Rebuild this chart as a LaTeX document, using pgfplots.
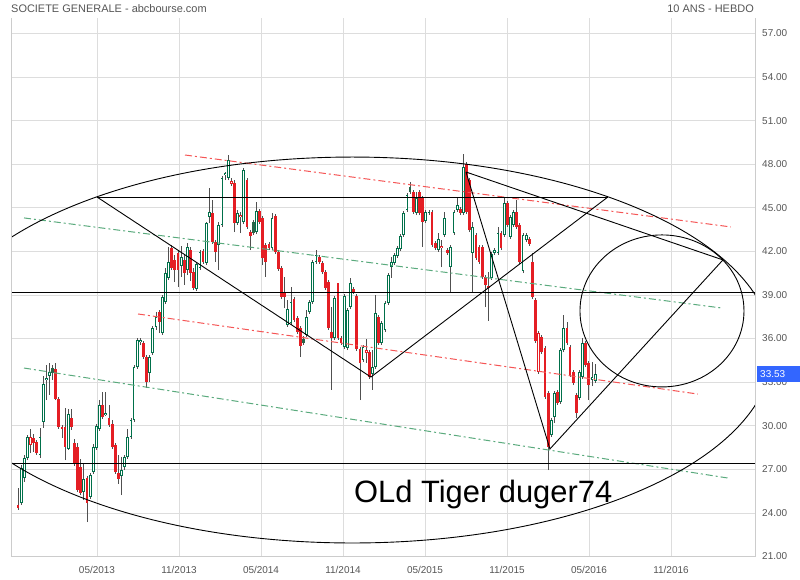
\documentclass[border=0pt]{standalone}
\usepackage{pgfplots}
\pgfplotsset{compat=1.18}
\usepackage{pgfplotstable}
\usepackage{fontspec}
\setmainfont{Liberation Sans}
\definecolor{cgreen}{RGB}{0,112,74}
\definecolor{cred}{RGB}{228,30,36}
\definecolor{cdkgreen}{RGB}{40,100,72}
\definecolor{cwick}{RGB}{80,80,80}
\definecolor{cgrid}{RGB}{221,221,221}
\definecolor{cframe}{RGB}{204,204,204}
\definecolor{ctext}{RGB}{85,85,85}
\definecolor{ctag}{RGB}{51,102,255}
\definecolor{cdred}{RGB}{245,85,85}
\definecolor{cdgreen}{RGB}{90,170,125}
\pgfplotsset{
  candlebars/.style={only marks, mark=*, mark size=0pt,
    mark options={draw opacity=0, fill opacity=0}, forget plot},
}
\pgfplotstableread{
w o h l c t
0 24.55 25.72 24.20 24.34 1
1 24.68 27.30 24.55 27.09 0
2 26.40 27.99 26.13 27.78 0
3 27.78 29.36 27.64 29.23 0
4 28.68 29.78 28.12 29.23 2
5 29.16 29.43 28.19 28.81 1
6 28.88 29.02 27.99 28.12 1
7 27.99 29.85 27.78 29.23 0
8 30.26 33.43 29.85 32.87 0
9 33.15 34.18 31.77 33.29 0
10 33.43 34.32 32.12 33.70 0
11 33.98 34.18 33.15 33.63 3
12 33.91 34.32 31.77 31.84 1
13 31.84 31.98 29.78 29.92 1
14 29.92 30.05 29.16 29.78 1
15 29.92 31.22 27.64 28.54 1
16 28.40 31.15 28.33 30.81 0
17 30.54 31.15 29.71 29.92 1
18 28.81 29.09 27.23 27.36 1
19 28.54 28.81 25.44 25.58 1
20 27.16 27.71 25.23 25.37 1
21 25.44 27.43 24.89 26.34 0
22 26.40 26.54 23.37 24.68 1
23 25.10 26.75 24.96 26.61 0
24 26.81 28.74 26.68 28.54 0
25 28.47 30.12 28.33 29.98 0
26 29.78 31.77 29.64 31.43 0
27 31.43 32.32 30.47 30.61 1
28 30.74 32.32 30.67 30.88 0
29 30.54 31.43 29.92 30.05 1
30 30.12 30.40 28.40 28.54 1
31 28.68 28.81 26.68 26.81 1
32 26.75 27.99 25.99 26.34 1
33 26.54 27.85 25.23 26.95 0
34 27.16 27.99 26.95 27.85 0
35 27.85 29.78 27.71 29.23 0
36 29.23 30.54 29.09 30.40 0
37 30.40 34.18 30.26 34.04 0
38 34.04 36.04 33.91 35.90 0
39 35.76 36.04 35.56 35.90 0
40 35.69 35.83 34.59 34.73 1
41 34.73 34.87 32.60 33.01 1
42 33.63 34.87 33.01 34.73 0
43 35.00 36.87 34.87 36.73 0
44 36.80 37.83 36.59 37.48 0
45 37.83 37.97 36.38 37.14 1
46 36.38 39.00 36.25 38.86 0
47 38.52 40.86 38.38 40.51 0
48 40.17 42.30 40.03 41.27 0
49 42.23 42.44 40.72 40.86 1
50 41.41 41.75 39.89 40.72 1
51 41.89 42.09 39.55 40.72 1
52 40.99 42.37 40.24 41.61 0
53 41.41 41.75 39.69 40.51 1
54 40.72 42.58 40.37 42.30 0
55 42.09 42.30 39.96 40.51 1
56 40.58 40.86 39.34 39.48 1
57 39.41 41.27 39.27 41.13 0
58 40.86 42.09 40.72 41.96 0
59 42.03 42.16 41.13 41.27 1
60 41.20 44.02 41.06 43.95 0
61 44.37 46.36 43.95 44.71 0
62 44.64 45.54 42.51 42.65 1
63 42.65 42.78 41.27 41.96 1
64 42.44 44.02 40.72 43.82 0
65 43.82 47.19 43.68 47.05 0
66 47.26 47.46 46.91 47.40 0
67 47.05 48.63 46.91 48.29 0
68 46.64 47.05 46.50 46.84 2
69 46.71 46.91 43.33 43.95 1
70 43.95 44.85 43.82 44.64 0
71 44.37 44.71 43.26 44.50 2
72 44.02 47.74 43.88 47.60 0
73 46.91 47.05 43.54 43.68 1
74 43.33 43.47 42.09 43.06 1
75 44.02 44.16 43.13 43.26 3
76 43.33 45.40 43.19 44.78 0
77 44.78 44.92 43.88 44.02 1
78 44.30 44.44 41.06 41.54 1
79 42.44 42.58 40.24 41.27 1
80 42.51 42.65 42.09 42.23 1
81 42.23 44.64 42.09 44.30 0
82 44.44 44.57 41.82 41.96 1
83 41.96 42.09 40.65 40.79 1
84 40.86 40.99 38.72 38.86 1
85 39.14 40.24 38.10 38.86 1
86 36.93 38.65 36.80 38.03 0
87 37.07 39.55 36.93 38.52 0
88 38.72 38.86 37.14 37.28 1
89 37.41 37.55 36.31 36.45 1
90 36.73 36.87 34.73 35.49 1
91 35.97 36.18 35.56 35.69 3
92 36.25 37.97 36.11 37.48 0
93 37.83 38.65 37.69 38.52 0
94 38.52 41.41 38.38 41.27 0
95 41.27 42.09 41.13 41.75 0
96 41.61 41.75 41.13 41.27 1
97 41.20 41.34 40.44 40.58 1
98 40.58 40.72 39.34 39.48 1
99 39.89 40.03 36.59 36.73 1
100 36.45 38.17 32.46 36.04 1
101 36.04 38.93 35.90 38.79 0
102 39.82 39.82 35.90 36.04 1
103 36.04 36.18 35.56 35.69 1
104 35.42 39.07 35.28 38.93 0
105 35.35 38.10 35.21 37.97 0
106 38.17 40.17 38.03 39.82 0
107 39.41 39.55 39.07 39.20 1
108 38.93 39.07 35.14 35.28 1
109 35.28 35.42 31.77 34.32 1
110 34.52 35.56 34.39 35.42 0
111 35.00 35.97 34.32 35.21 2
112 35.07 35.21 33.22 33.36 1
113 33.56 35.21 32.46 34.04 0
114 34.04 39.00 33.91 37.76 0
115 37.48 37.62 35.56 35.69 1
116 35.69 37.21 35.56 37.07 0
117 36.59 38.59 36.45 38.45 0
118 38.45 40.51 38.31 40.37 0
119 40.92 41.61 40.17 41.27 0
120 41.20 41.89 41.06 41.75 0
121 41.68 42.37 41.54 42.23 0
122 42.16 43.19 42.02 43.06 0
123 43.13 44.78 42.99 44.64 0
124 44.85 46.02 44.71 45.88 0
125 46.43 46.77 45.95 46.09 3
126 46.09 46.22 44.57 44.71 1
127 44.64 46.09 44.50 45.67 0
128 46.09 46.22 44.50 44.64 1
129 45.67 45.81 42.30 44.02 1
130 44.09 44.85 43.95 44.71 0
131 44.64 44.85 44.50 44.71 0
132 44.71 44.85 42.30 42.44 1
133 42.58 42.72 42.09 42.23 1
134 42.09 43.26 41.96 42.85 0
135 42.23 42.78 40.92 42.37 2
136 43.13 44.71 42.99 44.30 0
137 42.09 42.23 41.75 41.89 1
138 40.92 42.44 39.14 42.30 0
139 43.26 44.85 43.13 44.71 0
140 44.85 45.74 44.71 45.19 0
141 44.92 45.06 44.50 44.64 1
142 44.64 48.70 44.50 47.81 0
143 48.01 48.15 44.57 44.71 1
144 46.91 47.05 43.33 43.47 1
145 41.89 44.02 39.20 43.68 0
146 43.13 43.26 41.41 41.54 1
147 42.30 42.44 41.13 41.27 1
148 42.30 42.44 40.10 40.24 1
149 40.24 40.37 38.17 39.69 1
150 39.48 40.58 37.21 39.62 2
151 40.17 41.96 40.03 41.82 0
152 41.89 42.23 41.75 42.09 0
153 41.89 43.68 41.75 43.26 0
154 43.26 43.40 42.09 42.23 1
155 43.13 45.74 42.99 45.33 0
156 45.33 45.47 43.68 43.82 1
157 42.99 44.50 42.85 44.37 0
158 43.82 44.85 43.68 44.71 0
159 44.71 45.54 43.54 43.68 1
160 43.82 43.95 41.13 41.27 1
161 40.65 43.26 40.51 43.13 0
162 42.78 43.26 42.65 43.13 0
163 42.85 42.99 42.37 42.51 1
164 41.27 41.89 38.72 38.86 1
165 38.65 38.79 35.69 35.83 1
166 33.70 36.52 33.56 36.38 2
167 36.11 36.25 34.94 35.07 1
168 35.35 35.49 31.84 31.98 1
169 32.25 32.39 26.95 28.54 1
170 29.36 30.54 29.23 30.40 0
171 30.61 32.39 30.19 32.25 0
172 32.32 32.46 31.43 31.57 1
173 31.63 35.35 31.50 35.21 0
174 35.21 37.62 35.07 36.73 0
175 36.73 37.14 35.56 35.69 1
176 35.42 35.56 33.36 33.49 1
177 33.70 33.84 32.80 32.94 1
178 32.12 32.25 30.54 30.88 1
179 31.91 33.84 31.77 33.70 0
180 33.36 36.04 33.22 35.69 0
181 35.69 35.83 34.04 34.18 1
182 34.32 34.45 31.77 32.80 1
183 33.15 34.39 32.73 33.36 0
184 33.08 34.25 32.94 33.53 0
}\candles
\begin{document}
\begin{tikzpicture}
\useasboundingbox (0,0) rectangle (800bp,580bp);
\begin{axis}[
  name=ax, at={(11bp,23.5bp)}, anchor=south west,
  scale only axis, width=744bp, height=538.5bp,
  xmin=-2.293, xmax=52.146, ymin=21, ymax=58.06,
  axis line style={draw=none},
  major tick length=0pt,
  xtick={4,10,...,46},
  xticklabels={05/2013,11/2013,05/2014,11/2014,05/2015,11/2015,05/2016,11/2016},
  ytick={21,24,...,57},
  yticklabel pos=right,
  grid=major,
  major grid style={draw=cgrid, line width=0.8bp},
  xticklabel style={font=\fontsize{10}{12}\selectfont, text=ctext, inner sep=0pt, yshift=-10bp},
  yticklabel style={font=\fontsize{10}{12}\selectfont, text=ctext, anchor=west, inner sep=0pt, xshift=7bp,
    /pgf/number format/.cd, fixed, fixed zerofill, precision=2, assume math mode=true},
]
% wicks
\addplot[candlebars,
  error bars/.cd, y dir=plus, y explicit, error mark=none,
  error bar style={line width=0.8bp, cwick}]
  table[x expr=-1.779+0.2295*\thisrow{w}, y=l, y error plus expr={\thisrow{h}-\thisrow{l}}] {\candles};
% red filled bodies (t=1)
\addplot[candlebars,
  error bars/.cd, y dir=plus, y explicit, error mark=none,
  error bar style={line width=2.8bp, cred}]
  table[x expr=-1.779+0.2295*\thisrow{w},
        y expr={ifthenelse(\thisrow{t}==1, min(\thisrow{o},\thisrow{c}), 10)},
        y error plus expr={ifthenelse(\thisrow{t}==1, max(abs(\thisrow{o}-\thisrow{c}),0.05), 0)}] {\candles};
% green filled bodies (t=3)
\addplot[candlebars,
  error bars/.cd, y dir=plus, y explicit, error mark=none,
  error bar style={line width=2.8bp, cdkgreen}]
  table[x expr=-1.779+0.2295*\thisrow{w},
        y expr={ifthenelse(\thisrow{t}==3, min(\thisrow{o},\thisrow{c}), 10)},
        y error plus expr={ifthenelse(\thisrow{t}==3, max(abs(\thisrow{o}-\thisrow{c}),0.05), 0)}] {\candles};
% green hollow bodies (t=0)
\addplot[candlebars,
  error bars/.cd, y dir=plus, y explicit, error mark=none,
  error bar style={line width=2.8bp, cgreen}]
  table[x expr=-1.779+0.2295*\thisrow{w},
        y expr={ifthenelse(\thisrow{t}==0, min(\thisrow{o},\thisrow{c}), 10)},
        y error plus expr={ifthenelse(\thisrow{t}==0, max(abs(\thisrow{o}-\thisrow{c}),0.05), 0)}] {\candles};
\addplot[candlebars,
  error bars/.cd, y dir=plus, y explicit, error mark=none,
  error bar style={line width=1.0bp, white}]
  table[x expr=-1.779+0.2295*\thisrow{w},
        y expr={ifthenelse(\thisrow{t}==0, min(\thisrow{o},\thisrow{c})+0.05, 10)},
        y error plus expr={ifthenelse(\thisrow{t}==0, max(abs(\thisrow{o}-\thisrow{c})-0.1,0), 0)}] {\candles};
% red hollow bodies (t=2)
\addplot[candlebars,
  error bars/.cd, y dir=plus, y explicit, error mark=none,
  error bar style={line width=2.8bp, cred}]
  table[x expr=-1.779+0.2295*\thisrow{w},
        y expr={ifthenelse(\thisrow{t}==2, min(\thisrow{o},\thisrow{c}), 10)},
        y error plus expr={ifthenelse(\thisrow{t}==2, max(abs(\thisrow{o}-\thisrow{c}),0.05), 0)}] {\candles};
\addplot[candlebars,
  error bars/.cd, y dir=plus, y explicit, error mark=none,
  error bar style={line width=1.0bp, white}]
  table[x expr=-1.779+0.2295*\thisrow{w},
        y expr={ifthenelse(\thisrow{t}==2, min(\thisrow{o},\thisrow{c})+0.05, 10)},
        y error plus expr={ifthenelse(\thisrow{t}==2, max(abs(\thisrow{o}-\thisrow{c})-0.1,0), 0)}] {\candles};
% dash-dot channels
\addplot[cdred, line width=1bp, dash pattern=on 7bp off 3bp on 2bp off 3bp] coordinates {(10.44,48.63) (50.38,43.68)};
\addplot[cdred, line width=1bp, dash pattern=on 7bp off 3bp on 2bp off 3bp] coordinates {(7.0,37.69) (47.96,32.18)};
\addplot[cdgreen, line width=1bp, dash pattern=on 7bp off 3bp on 2bp off 3bp] coordinates {(-1.34,44.30) (49.72,38.10)};
\addplot[cdgreen, line width=1bp, dash pattern=on 7bp off 3bp on 2bp off 3bp] coordinates {(-1.34,33.97) (50.16,26.40)};
% black annotation lines
\addplot[black, line width=0.9bp] coordinates {(4.0,45.74) (41.38,45.74)};
\addplot[black, line width=0.9bp] coordinates {(4.0,45.74) (24.04,33.35) (41.38,45.74)};
\addplot[black, line width=0.9bp] coordinates {(31.0,47.46) (37.14,28.40) (49.80,41.41) (31.0,47.46)};
\addplot[black, line width=0.9bp] coordinates {(-2.293,39.15) (52.146,39.15)};
\addplot[black, line width=0.9bp] coordinates {(-2.293,27.41) (52.146,27.41)};
\draw[black, line width=0.9bp] (axis cs:22.69,35.21) ellipse [x radius=30.75, y radius=13.28];
\draw[black, line width=0.9bp] (axis cs:45.34,37.90) ellipse [x radius=6.0, y radius=5.23];
\node[anchor=base west, inner sep=0pt, font=\fontsize{31}{31}\selectfont] at (axis cs:22.8,24.75) {OLd Tiger duger74};
\coordinate (tag) at (axis cs:52.146,33.53);
\end{axis}
\draw[cframe, line width=0.8bp] (ax.north west) -- (ax.south west) -- (ax.south east) -- (ax.north east);
\fill[ctag] ([xshift=2bp,yshift=-8bp]tag) rectangle ([xshift=45bp,yshift=8bp]tag);
\node[anchor=west, inner sep=0pt, text=white, font=\fontsize{10}{12}\selectfont] at ([xshift=5bp]tag) {33.53};
\node[anchor=west, inner sep=0pt, text=ctext, font=\fontsize{11}{13}\selectfont] at (11bp,571bp) {SOCIETE GENERALE - abcbourse.com};
\node[anchor=east, inner sep=0pt, text=ctext, font=\fontsize{11}{13}\selectfont] at (754bp,571bp) {10 ANS - HEBDO};
\end{tikzpicture}
\end{document}
